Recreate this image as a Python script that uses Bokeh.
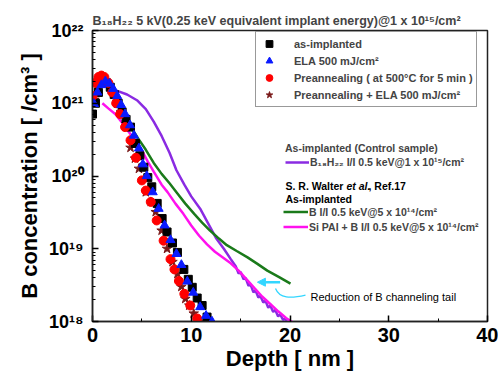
from bokeh.plotting import figure
from bokeh.models import (Range1d, Label, Legend, LegendItem, Arrow, NormalHead,
                          SingleIntervalTicker, LogTicker, CustomJSTickFormatter)
from bokeh.embed import file_html
from bokeh.resources import INLINE

# ---------------- data ----------------
# as-implanted (black squares)
AS_X = [0.0, 0.3, 0.6, 1.0, 1.4, 1.8, 2.2, 2.6, 3.0, 3.4, 3.85, 4.35, 4.8, 5.2, 5.6, 6.0,
        6.55, 7.05, 7.55, 8.1, 8.6, 9.25, 9.7, 10.1, 10.6, 11.1, 11.6]
AS_Y = [7.1e20, 1.0e21, 1.41e21, 1.91e21, 1.91e21, 1.66e21, 1.32e21, 1.0e21, 7.6e20, 6.0e20,
        4.7e20, 2.8e20, 1.9e20, 1.32e20, 9.5e19, 7.1e19, 4.2e19, 2.6e19, 1.7e19, 1.2e19,
        8.9e18, 5.2e18, 3.8e18, 2.95e18, 2.1e18, 1.66e18, 1.15e18]
# ELA 500 mJ/cm2 (blue triangles)
ELA_X = [0.15, 0.5, 0.9, 1.3, 1.7, 2.1, 2.5, 2.9, 3.3, 3.8, 4.2, 4.7, 5.1, 5.5, 6.1, 6.7,
         7.3, 7.9, 8.5, 9.0, 9.6, 10.2, 10.9, 11.5, 12.1]
ELA_Y = [9.8e20, 1.41e21, 1.78e21, 2.0e21, 1.86e21, 1.58e21, 1.26e21, 9.5e20, 7.1e20, 5.0e20,
         3.6e20, 2.4e20, 1.45e20, 1.0e20, 6.0e19, 3.55e19, 2.1e19, 1.32e19, 8.5e18, 6.0e18,
         3.55e18, 2.5e18, 1.58e18, 1.2e18, 1.0e18]
# Preannealing (red circles)
PRE_X = [0.0, 0.3, 0.6, 0.9, 1.2, 1.6, 2.0, 2.4, 2.8, 3.3, 3.85, 4.4, 5.0, 5.4, 5.9, 6.5,
         7.2, 7.9, 8.3, 8.75, 9.3, 9.9, 10.6]
PRE_Y = [1.26e21, 1.91e21, 2.29e21, 2.4e21, 2.29e21, 1.91e21, 1.41e21, 1.0e21, 7.1e20, 4.7e20,
         3.1e20, 1.78e20, 8.7e19, 6.3e19, 4.4e19, 2.45e19, 1.29e19, 7.2e18, 5.2e18, 3.6e18,
         2.4e18, 1.66e18, 1.1e18]
# Preannealing + ELA (brown stars)
PE_X = [0.2, 0.5, 0.9, 1.3, 1.7, 2.1, 2.5, 2.9, 3.4, 3.85, 4.3, 4.7, 5.4, 5.9, 6.4, 7.0,
        7.55, 8.1, 8.6, 9.0, 9.4, 9.8, 10.25, 10.7]
PE_Y = [1.12e21, 1.78e21, 2.09e21, 2.09e21, 1.78e21, 1.41e21, 1.05e21, 7.6e20, 5.2e20, 2.45e20,
        1.74e20, 1.26e20, 6.0e19, 4.4e19, 3.2e19, 1.78e19, 1.0e19, 6.6e18, 4.5e18, 3.0e18,
        2.05e18, 1.66e18, 1.29e18, 1.0e18]
# B18H22 I/I 0.5 keV (purple line)
BH_X = [1.5, 2.5, 3.5, 4.5, 5.4, 6.2, 7.0, 7.8, 8.5, 9.3, 10.0, 10.9, 11.9, 12.5, 13.3, 14.0,
        14.5, 14.8, 15.0, 15.3, 15.5, 15.8, 16.0, 16.3, 16.5, 16.8, 17.0, 17.3, 17.5, 17.8,
        18.0, 18.3, 18.5, 18.8, 19.0, 19.3, 19.5, 19.8]
BH_Y = [1.41e21, 1.48e21, 1.32e21, 1.10e21, 8.3e20, 5.6e20, 3.55e20, 2.09e20, 1.20e20, 7.6e19,
        5.25e19, 3.55e19, 2.0e19, 1.41e19, 1.0e19, 7.2e18, 5.75e18, 4.57e18, 4.79e18, 3.8e18,
        3.98e18, 3.09e18, 3.24e18, 2.51e18, 2.69e18, 2.14e18, 2.24e18, 1.82e18, 1.95e18, 1.55e18,
        1.66e18, 1.35e18, 1.45e18, 1.17e18, 1.26e18, 1.05e18, 1.10e18, 9.3e17]
# Walter: B I/I 0.5 keV (green line)
W_X = [4.0, 4.6, 5.4, 6.2, 7.0, 7.8, 8.6, 9.4, 10.3, 11.1, 11.9, 12.8, 13.6, 14.6, 15.7,
       16.7, 17.7, 18.9, 20.05]
W_Y = [4.47e20, 3.31e20, 2.29e20, 1.51e20, 1.07e20, 7.94e19, 5.75e19, 4.17e19, 3.02e19,
       2.29e19, 1.78e19, 1.38e19, 1.12e19, 9.3e18, 7.6e18, 6.2e18, 5.0e18, 4.07e18, 3.31e18]
# Walter: Si PAI + B I/I 0.5 keV (magenta line)
PAI_X = [1.0, 1.6, 2.3, 3.0, 3.7, 4.4, 5.0, 5.6, 6.2, 7.0, 7.6, 8.4, 9.2, 10.0, 10.8, 11.6,
         12.4, 13.2, 14.0, 14.8, 15.6, 16.4, 17.2, 18.0, 18.8, 19.6, 20.4]
PAI_Y = [1.0e21, 8.5e20, 7.1e20, 5.4e20, 3.98e20, 2.95e20, 2.24e20, 1.58e20, 1.15e20, 7.6e19,
         6.0e19, 4.17e19, 3.02e19, 2.09e19, 1.51e19, 1.15e19, 9.1e18, 7.6e18, 6.3e18, 5.0e18,
         3.8e18, 2.88e18, 2.19e18, 1.74e18, 1.38e18, 1.12e18, 9.5e17]

Y_TICKS = [1e18, 1e19, 1e20, 1e21, 1e22]
Y_LABELS = ["10\u00b9\u2078", "10\u00b9\u2079", "10\u00b2\u2070", "10\u00b2\u00b9", "10\u00b2\u00b2"]

LEG1 = ["as-implanted", "ELA 500 mJ/cm\u00b2", "Preannealing ( at 500\u00b0C for 5 min )",
        "Preannealing + ELA 500 mJ/cm\u00b2"]
LEG_BH = "B\u2081\u2088H\u2082\u2082 I/I 0.5 keV@1 x 10\u00b9\u2075/cm\u00b2"
LEG_W = "B I/I 0.5 keV@5 x 10\u00b9\u2074/cm\u00b2"
LEG_PAI = "Si PAI + B I/I 0.5 keV@5 x 10\u00b9\u2074/cm\u00b2"
TITLE = "B\u2081\u2088H\u2082\u2082 5 kV(0.25 keV equivalent implant energy)@1 x 10\u00b9\u2075/cm\u00b2"

FONT = "Liberation Sans"

p = figure(width=498, height=374, x_range=Range1d(0, 40), y_range=Range1d(1e18, 1e22),
           y_axis_type="log", output_backend="svg", toolbar_location=None, title=TITLE,
           min_border_left=92, min_border_right=11, min_border_top=30, min_border_bottom=53)
p.title.text_font = FONT
p.title.text_font_style = "bold"
p.title.text_font_size = "12.5px"
p.title.align = "left"
p.title.standoff = 6
p.xgrid.visible = False
p.ygrid.visible = False
p.outline_line_color = "#222222"
p.outline_line_width = 1.5
p.background_fill_color = "white"
p.border_fill_color = "white"

p.xaxis.ticker = SingleIntervalTicker(interval=10, num_minor_ticks=2)
p.yaxis.ticker = LogTicker(num_minor_ticks=10)
p.yaxis.formatter = CustomJSTickFormatter(args=dict(tvals=Y_TICKS, tlabels=Y_LABELS), code="""
    for (let i = 0; i < tvals.length; i++) {
        if (Math.abs(Math.log10(tick) - Math.log10(tvals[i])) < 0.01) { return tlabels[i]; }
    }
    return "";
""")
for ax in (p.xaxis[0], p.yaxis[0]):
    ax.major_tick_in = 6
    ax.major_tick_out = 0
    ax.minor_tick_in = 3
    ax.minor_tick_out = 0
    ax.axis_line_width = 1.5
    ax.major_tick_line_width = 1.5
    ax.axis_line_color = "#222222"
    ax.major_label_text_font = FONT
    ax.major_label_text_font_style = "bold"
    ax.major_label_text_color = "black"
    ax.axis_label_text_font = FONT
    ax.axis_label_text_font_style = "bold"
    ax.axis_label_text_font_size = "22px"
    ax.axis_label_text_color = "black"
p.xaxis.major_label_text_font_size = "20px"
p.xaxis.major_label_standoff = 6
p.xaxis.axis_label = "Depth [ nm ]"
p.xaxis.axis_label_standoff = 1
p.yaxis.major_label_text_font_size = "18px"
p.yaxis.major_label_standoff = 9
p.yaxis.axis_label = "B concentration [ /cm\u00b3 ]"
p.yaxis.axis_label_standoff = 4

# lines
r_bh = p.line(BH_X, BH_Y, line_color="#8a2be2", line_width=2.5)
r_w = p.line(W_X, W_Y, line_color="#1a7a1a", line_width=2.5)
r_pai = p.line(PAI_X, PAI_Y, line_color="#ff11ee", line_width=2.5)

# markers
r_pe = p.scatter(PE_X, PE_Y, marker="star", size=10, color="#7a1a1a")
r_as = p.scatter(AS_X, AS_Y, marker="square", size=8, color="black")
r_pre = p.scatter(PRE_X, PRE_Y, marker="circle", size=9, color="#ff0000")
r_ela = p.scatter(ELA_X, ELA_Y, marker="triangle", size=9, color="#0a1aff")

# annotation arrow
ARROW_X = [19.0, 16.7]
ARROW_Y = 3.47e18
p.add_layout(Arrow(x_start=ARROW_X[0], y_start=ARROW_Y, x_end=ARROW_X[1], y_end=ARROW_Y,
                   line_color="#33d6ff", line_width=2.5,
                   end=NormalHead(size=8, fill_color="#33d6ff", line_color="#33d6ff")))
p.bezier(x0=[18.53], y0=[2.85e18], x1=[21.57], y1=[2.31e18], cx0=[18.94], cy0=[2.07e18],
         cx1=[20.05], cy1=[2.07e18], line_color="#33d6ff", line_width=1.3)

# legends
leg1 = Legend(items=[LegendItem(label=LEG1[0], renderers=[r_as]),
                     LegendItem(label=LEG1[1], renderers=[r_ela]),
                     LegendItem(label=LEG1[2], renderers=[r_pre]),
                     LegendItem(label=LEG1[3], renderers=[r_pe])],
              location=(163, 214), padding=3, spacing=0, glyph_width=20, glyph_height=17,
              label_height=17, label_standoff=15, label_text_font=FONT,
              label_text_font_style="bold", label_text_font_size="11px",
              border_line_color="#333333", border_line_width=1.5, margin=0)
p.add_layout(leg1)

leg2 = Legend(items=[LegendItem(label=LEG_BH, renderers=[r_bh])],
              title="As-implanted (Control sample)", title_text_font=FONT,
              title_text_font_style="bold", title_text_font_size="10.5px", title_standoff=2,
              location=(193, 153), padding=0, spacing=0, glyph_width=24, glyph_height=12,
              label_height=12, label_standoff=1, label_text_font=FONT,
              label_text_font_style="bold", label_text_font_size="10.5px",
              border_line_alpha=0, background_fill_alpha=0, margin=0)
p.add_layout(leg2)

leg3 = Legend(items=[LegendItem(label=LEG_W, renderers=[r_w]),
                     LegendItem(label=LEG_PAI, renderers=[r_pai])],
              location=(191, 87), padding=0, spacing=0, glyph_width=25, glyph_height=15,
              label_height=15, label_standoff=1, label_text_font=FONT,
              label_text_font_style="bold", label_text_font_size="10.5px",
              border_line_alpha=0, background_fill_alpha=0, margin=0)
p.add_layout(leg3)

def lab(x, y, text, size, style="bold"):
    p.add_layout(Label(x=x, y=y, text=text, text_font=FONT, text_font_style=style,
                       text_font_size=size, text_align="left", text_baseline="middle",
                       text_color="black"))

lab(19.54, 7.40e19, "S. R. Walter ", "10.5px")
lab(25.72, 7.40e19, "et al.", "10.5px", style="bold italic")
lab(27.95, 7.40e19, ", Ref.17", "10.5px")
lab(19.54, 4.86e19, "As-implanted", "10.5px")
lab(22.08, 2.16e18, "Reduction of B channeling tail", "11px", style="normal")

open("out.html", "w").write(file_html(p, INLINE))
